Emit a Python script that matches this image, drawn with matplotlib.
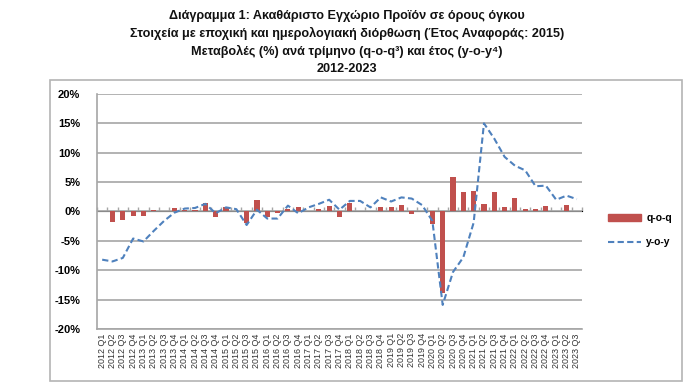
import numpy as np
import matplotlib

matplotlib.use('Agg')
import matplotlib.pyplot as plt
from matplotlib.patches import Rectangle, Patch
from matplotlib.lines import Line2D

plt.rcParams['font.family'] = ['Liberation Sans', 'DejaVu Sans']

years = [2012 + k // 4 for k in range(47)]
quarters = ['Q%d' % (k % 4 + 1) for k in range(47)]
labels = ['%d %s' % (y, q) for y, q in zip(years, quarters)]

# q-o-q changes (%)
qoq = [0.0, -1.8, -1.5, -0.8, -0.8, 0.2, 0.1, 0.6, 0.3, 0.3,
       1.4, -1.0, 0.7, 0.1, -1.9, 2.0, -1.0, -0.2, 0.4, 0.7,
       0.1, 0.4, 1.0, -1.0, 1.4, 0.1, 0.1, 0.8, 0.8, 1.1,
       -0.5, 0.0, -2.1, -13.9, 5.9, 3.4, 3.5, 1.3, 3.3, 0.8,
       2.3, 0.5, 0.5, 1.0, 0.1, 1.1, 0.0]

# y-o-y changes (%)
yoy = [-8.2, -8.5, -7.9, -4.6, -5.1, -3.3, -1.6, -0.2, 0.5, 0.6,
       1.3, -0.3, 0.7, 0.4, -2.3, 0.3, -1.2, -1.2, 1.0, -0.3,
       0.7, 1.3, 2.0, 0.3, 1.8, 1.8, 0.7, 2.4, 1.7, 2.4,
       2.2, 1.1, -1.6, -15.9, -10.3, -7.8, -1.9, 15.0, 12.4, 9.3,
       7.8, 7.0, 4.3, 4.4, 2.0, 2.7, 2.1]

title_lines = [
    'Διάγραμμα 1: Ακαθάριστο Εγχώριο Προϊόν σε όρους όγκου',
    'Στοιχεία με εποχική και ημερολογιακή διόρθωση (Έτος Αναφοράς: 2015)',
    'Μεταβολές (%) ανά τρίμηνο (q-o-q³) και έτος (y-o-y⁴)',
    '2012-2023',
]

red = '#c0504d'
blue = '#4f81bd'
grid_c = '#a6a6a6'

fig = plt.figure(figsize=(6.94, 3.90), dpi=100)

# outer chart frame
fig.patches.append(Rectangle((0.072, 0.023), 0.911, 0.772, transform=fig.transFigure,
                             fill=False, edgecolor='#b4b4b4', linewidth=1.2))

for k, line in enumerate(title_lines):
    fig.text(0.5, 1 - (16 + 17.5 * k) / 390, line, ha='center', va='center',
             fontsize=9.1, fontweight='bold', color='#111111')

ax = fig.add_axes([0.1398, 0.1564, 0.6988, 0.6026])
x = np.arange(len(labels))

ax.bar(x, qoq, width=0.5, color=red, zorder=3)
ax.plot(x, yoy, color=blue, linestyle=(0, (3, 1.6)), linewidth=1.5, zorder=4)

ax.set_xlim(-0.5, len(labels) - 0.5)
ax.set_ylim(-20, 20)
ax.set_yticks(np.arange(-20, 21, 5))
ax.set_yticklabels(['%d%%' % v for v in range(-20, 21, 5)], fontsize=8, fontweight='bold')
ax.tick_params(axis='y', length=0, pad=12)
ax.grid(axis='y', color=grid_c, linewidth=1.2, zorder=0)

ax.set_xticks(x)
ax.set_xticklabels(labels, rotation=90, fontsize=6.4, color='#333333')
ax.tick_params(axis='x', length=0, pad=3)

for s in ['top', 'right']:
    ax.spines[s].set_visible(False)
ax.spines['left'].set_color(grid_c)
ax.spines['bottom'].set_color(grid_c)
ax.spines['left'].set_linewidth(1.2)
ax.spines['bottom'].set_linewidth(1.2)

# category axis crossing at zero, ticks between categories
zero_ax = ax.secondary_xaxis(0.5)
zero_ax.set_xticks(np.arange(-0.5, len(labels), 1))
zero_ax.set_xticklabels([])
zero_ax.tick_params(axis='x', direction='out', length=3, color=grid_c, width=1)
zero_ax.spines['bottom'].set_color(grid_c)
zero_ax.spines['bottom'].set_linewidth(1.2)

handles = [Patch(facecolor=red, edgecolor=red),
           Line2D([0], [0], color=blue, linestyle=(0, (3, 1.6)), linewidth=1.5)]
leg = fig.legend(handles, ['q-o-q', 'y-o-y'], loc='center left',
                 bbox_to_anchor=(0.862, 0.41), frameon=False,
                 prop={'size': 7.5, 'weight': 'bold'}, handlelength=3.2,
                 labelspacing=1.4, handletextpad=0.5)

plt.savefig('out.png', dpi=100)
plt.close()
